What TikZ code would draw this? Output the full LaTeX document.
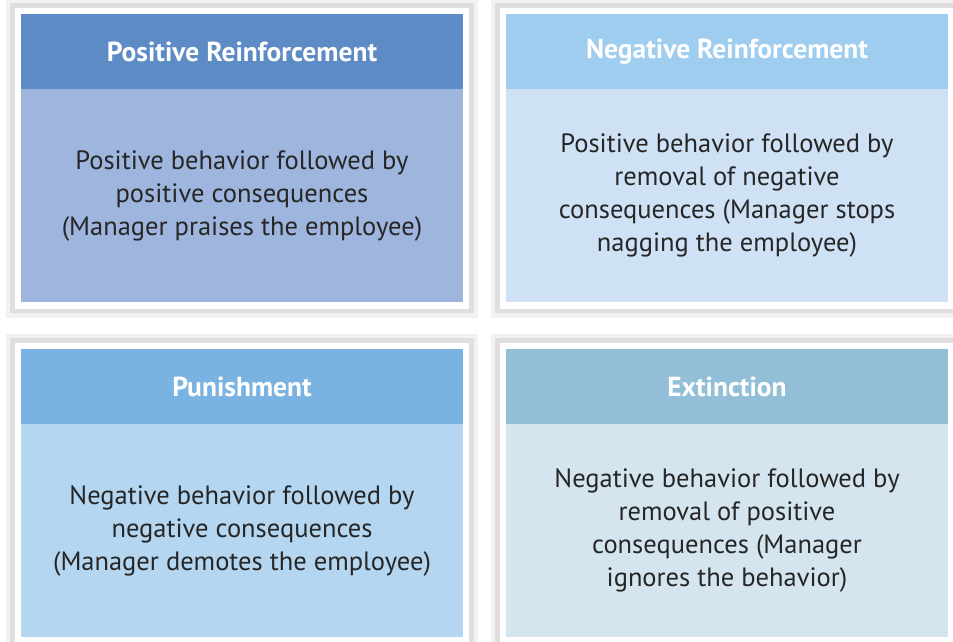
\documentclass[tikz,border=0pt]{standalone}
\usepackage{fontspec}
\setmainfont{PT Sans}
\usepackage{xcolor}
\usetikzlibrary{positioning, fit, backgrounds}

\definecolor{posHeadCol}{HTML}{5D8BC5}
\definecolor{posBodyCol}{HTML}{9EB5DD}
\definecolor{negHeadCol}{HTML}{9ECDEF}
\definecolor{negBodyCol}{HTML}{CFE1F4}
\definecolor{punHeadCol}{HTML}{7AB3E1}
\definecolor{punBodyCol}{HTML}{B4D6F0}
\definecolor{extHeadCol}{HTML}{93BED7}
\definecolor{extBodyCol}{HTML}{D5E5EF}

\begin{document}
\begin{tikzpicture}[x=1pt, y=-1pt, node distance=0pt,
    head/.style={minimum width=442pt, minimum height=75pt, inner sep=0pt,
        text=white, font=\fontsize{27.5}{30}\selectfont\bfseries},
    body/.style={minimum width=442pt, minimum height=213pt, inner sep=0pt,
        align=center, text=black!85, font=\fontsize{26.5}{33}\selectfont},
    frame/.style={fill=white, inner sep=6pt,
        preaction={draw=black, opacity=0.05, line width=18pt},
        preaction={draw=black, opacity=0.08, line width=9pt}}]
    \useasboundingbox (0,0) rectangle (953,641);

    \node (posHead) [head, fill=posHeadCol] at (242,51.5) {Positive Reinforcement};
    \node (posBody) [body, fill=posBodyCol, below=of posHead]
        {Positive behavior followed by\\positive consequences\\(Manager praises the employee)};

    \node (negHead) [head, fill=negHeadCol] at (727,51.5) {Negative Reinforcement};
    \node (negBody) [body, fill=negBodyCol, below=of negHead]
        {Positive behavior followed by\\removal of negative\\consequences (Manager stops\\nagging the employee)};

    \node (punHead) [head, fill=punHeadCol] at (242,386.5) {Punishment};
    \node (punBody) [body, fill=punBodyCol, below=of punHead]
        {Negative behavior followed by\\negative consequences\\(Manager demotes the employee)};

    \node (extHead) [head, fill=extHeadCol] at (727,386.5) {Extinction};
    \node (extBody) [body, fill=extBodyCol, below=of extHead]
        {Negative behavior followed by\\removal of positive\\consequences (Manager\\ignores the behavior)};

    % white frames with soft shadow
    \begin{scope}[on background layer]
        \node (posFrame) [frame, fit=(posHead)(posBody)] {};
        \node (negFrame) [frame, fit=(negHead)(negBody)] {};
        \node (punFrame) [frame, fit=(punHead)(punBody)] {};
        \node (extFrame) [frame, fit=(extHead)(extBody)] {};
    \end{scope}
\end{tikzpicture}
\end{document}
